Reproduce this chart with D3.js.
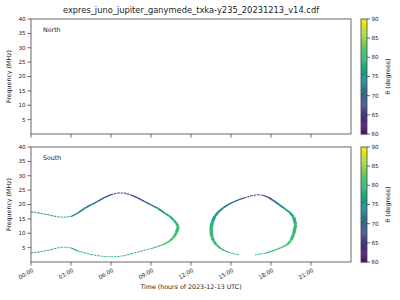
<!DOCTYPE html>
<html>
<head>
<meta charset="utf-8">
<script src="https://cdn.jsdelivr.net/npm/d3@7"></script>
<style>
  body { margin: 0; background: #fff; }
  text { font-family: "DejaVu Sans", sans-serif; }
</style>
</head>
<body>
<script>
// --- data ---
const title = "expres_juno_jupiter_ganymede_txka-y235_20231213_v14.cdf";
const panelNames = ["North", "South"];
const timeTicks = [0, 3, 6, 9, 12, 15, 18, 21];
const timeTickLabels = ["00:00", "03:00", "06:00", "09:00", "12:00", "15:00", "18:00", "21:00"];
const freqTicks = [5, 10, 15, 20, 25, 30, 35, 40];
const thetaTicks = [60, 65, 70, 75, 80, 85, 90];

// south, first loop, upper branch
const s1UpTime  = [0, 0.5, 1, 1.5, 2, 2.5, 3, 3.5, 4, 4.5, 5, 5.5, 6, 6.5, 7, 7.5, 8, 8.5, 9, 9.5, 10, 10.4, 10.7, 10.9, 11.05];
const s1UpFreq  = [17.5, 17.1, 16.7, 16.2, 15.7, 15.6, 15.8, 17.0, 18.6, 19.9, 21.1, 22.4, 23.4, 24.0, 24.0, 23.3, 22.3, 21.1, 19.9, 18.7, 17.1, 15.9, 14.6, 13.5, 12.3];
const s1UpTheta = [74, 74.5, 75, 75.5, 76, 76, 75, 74, 73, 72, 70, 68, 65, 63, 62.5, 64, 66, 68, 71, 73.5, 76, 77.5, 79, 80, 80.5];
// south, first loop, lower branch
const s1LoTime  = [0, 0.5, 1, 1.5, 2, 2.5, 3, 3.5, 4, 4.5, 5, 5.5, 6, 6.5, 7, 7.5, 8, 8.5, 9, 9.5, 10, 10.4, 10.7, 10.9, 11.05];
const s1LoFreq  = [3.1, 3.4, 3.8, 4.3, 4.9, 5.2, 4.9, 3.9, 3.2, 2.6, 2.2, 1.9, 1.8, 1.9, 2.2, 2.9, 3.4, 4.1, 4.6, 5.4, 6.2, 7.3, 8.6, 10.2, 12.3];
const s1LoTheta = [77, 77.5, 78.5, 79.5, 80, 80, 80, 79.5, 79.5, 79.5, 79.5, 79.5, 79.5, 79.5, 79.5, 80, 80, 80.5, 80.5, 81, 81, 81, 81, 81, 80.5];
// south, second loop, upper branch
const s2UpTime  = [13.5, 13.6, 13.8, 14.1, 14.4, 14.8, 15.2, 15.6, 16.0, 16.5, 17.0, 17.4, 17.8, 18.2, 18.6, 19.0, 19.4, 19.7, 19.85];
const s2UpFreq  = [11.8, 14.0, 16.0, 17.6, 18.8, 20.0, 20.9, 21.7, 22.3, 23.0, 23.4, 23.2, 22.5, 21.3, 20.0, 18.6, 17.3, 15.6, 13.0];
const s2UpTheta = [80, 78, 76.5, 75, 73.5, 72, 70.5, 69, 68, 66.5, 65.5, 66, 67.5, 70, 73, 75.5, 77.5, 79, 80];
// south, second loop, lower branch (null = no emission)
const s2LoTime  = [13.5, 13.55, 13.7, 13.9, 14.2, 14.5, 14.8, 15.2, 15.6, 16.0, 16.4, 16.8, 17.2, 17.6, 18.0, 18.4, 18.8, 19.2, 19.5, 19.7, 19.85];
const s2LoFreq  = [11.8, 9.0, 7.3, 6.0, 4.8, 4.0, 3.4, 2.9, 2.5, null, null, 2.5, 2.8, 3.1, 3.7, 4.3, 5.1, 6.0, 7.5, 9.8, 13.0];
const s2LoTheta = [80, 80.5, 80.5, 80.5, 80.5, 80.5, 80, 80, 79.5, 79.5, 79.5, 79.5, 80, 80, 80.5, 80.5, 81, 81, 81, 80.5, 80];

// --- layout ---
const W = 400, H = 300;
const xL = 31, xR = 351;
const panelsY = [[19, 134], [147, 262]];
const cbX = 361, cbW = 6;
const ink = "#222";

const svg = d3.select("body").append("svg")
  .attr("width", W).attr("height", H)
  .attr("viewBox", `0 0 ${W} ${H}`);

const x = d3.scaleLinear().domain([0, 24]).range([xL, xR]);
const color = d3.scaleSequential(d3.interpolateViridis).domain([60, 90]);

svg.append("text")
  .attr("x", (xL + xR) / 2).attr("y", 13)
  .attr("text-anchor", "middle")
  .attr("fill", ink)
  .style("font-size", "8.3px")
  .text(title);

const branches = [
  [s1UpTime, s1UpFreq, s1UpTheta],
  [s1LoTime, s1LoFreq, s1LoTheta],
  [s2UpTime, s2UpFreq, s2UpTheta],
  [s2LoTime, s2LoFreq, s2LoTheta]
];

panelsY.forEach(([top, bottom], p) => {
  const y = d3.scaleLinear().domain([0, 40]).range([bottom, top]);
  const g = svg.append("g");

  // emission (south only)
  if (p === 1) {
    const segs = [];
    branches.forEach(([t, f, th]) => {
      for (let i = 0; i < t.length - 1; i++) {
        if (f[i] == null || f[i + 1] == null) continue;
        segs.push({ t0: t[i], f0: f[i], t1: t[i + 1], f1: f[i + 1], th: (th[i] + th[i + 1]) / 2 });
      }
    });
    g.selectAll("line.em").data(segs).enter().append("line")
      .attr("class", "em")
      .attr("x1", d => x(d.t0)).attr("y1", d => y(d.f0))
      .attr("x2", d => x(d.t1)).attr("y2", d => y(d.f1))
      .attr("stroke", d => color(d.th))
      .attr("stroke-linecap", "butt")
      .attr("stroke-dasharray", d => {
        const dx = x(d.t1) - x(d.t0), dy = y(d.f1) - y(d.f0);
        return Math.abs(dy) / Math.hypot(dx, dy) < 0.3 ? "2.2,0.8" : null;
      })
      .attr("stroke-width", d => {
        const dx = x(d.t1) - x(d.t0), dy = y(d.f1) - y(d.f0);
        const s = Math.abs(dy) / Math.hypot(dx, dy);
        return 0.9 + 2.6 * s * s;
      });
  }

  // frame
  g.append("rect")
    .attr("x", xL).attr("y", top)
    .attr("width", xR - xL).attr("height", bottom - top)
    .attr("fill", "none").attr("stroke", "#444").attr("stroke-width", 0.8);

  // x ticks
  const xt = g.selectAll("g.xt").data(timeTicks).enter().append("g")
    .attr("transform", d => `translate(${x(d)},${bottom})`);
  xt.append("line").attr("y2", 3.5).attr("stroke", "#444").attr("stroke-width", 0.8);
  if (p === 1) {
    xt.append("text")
      .attr("transform", "translate(1,6) rotate(-30)")
      .attr("text-anchor", "end")
      .attr("dy", "0.7em")
      .attr("fill", ink)
      .style("font-size", "5.6px")
      .text((d, i) => timeTickLabels[i]);
  }

  // y ticks
  const yt = g.selectAll("g.yt").data(freqTicks).enter().append("g")
    .attr("transform", d => `translate(${xL},${y(d)})`);
  yt.append("line").attr("x2", -3.5).attr("stroke", "#444").attr("stroke-width", 0.8);
  yt.append("text")
    .attr("x", -5.5).attr("dy", "0.35em")
    .attr("text-anchor", "end")
    .attr("fill", ink)
    .style("font-size", "5.6px")
    .text(d => d);

  g.append("text")
    .attr("transform", `translate(11,${(top + bottom) / 2}) rotate(-90)`)
    .attr("text-anchor", "middle")
    .attr("fill", ink)
    .style("font-size", "6.3px")
    .text("Frequency (MHz)");

  g.append("text")
    .attr("x", 43).attr("y", top + 13)
    .attr("fill", ink)
    .style("font-size", "6.3px")
    .text(panelNames[p]);

  // colorbar
  const cy = d3.scaleLinear().domain([60, 90]).range([bottom, top]);
  const steps = d3.range(60, 90, 0.25);
  g.selectAll("rect.cb").data(steps).enter().append("rect")
    .attr("x", cbX).attr("width", cbW)
    .attr("y", d => cy(d + 0.25)).attr("height", cy(60) - cy(60.25) + 0.4)
    .attr("fill", d => color(d + 0.125));
  g.append("rect")
    .attr("x", cbX).attr("y", top).attr("width", cbW).attr("height", bottom - top)
    .attr("fill", "none").attr("stroke", "#444").attr("stroke-width", 0.8);
  const ct = g.selectAll("g.ct").data(thetaTicks).enter().append("g")
    .attr("transform", d => `translate(${cbX + cbW},${cy(d)})`);
  ct.append("line").attr("x2", 3).attr("stroke", "#444").attr("stroke-width", 0.8);
  ct.append("text")
    .attr("x", 4.5).attr("dy", "0.35em")
    .attr("fill", ink)
    .style("font-size", "5.6px")
    .text(d => d);
  g.append("text")
    .attr("transform", `translate(390,${(top + bottom) / 2}) rotate(-90)`)
    .attr("text-anchor", "middle")
    .attr("fill", ink)
    .style("font-size", "6.3px")
    .text("θ (degrees)");
});

svg.append("text")
  .attr("x", (xL + xR) / 2).attr("y", 289)
  .attr("text-anchor", "middle")
  .attr("fill", ink)
  .style("font-size", "6.3px")
  .text("Time (hours of 2023-12-13 UTC)");
</script>
</body>
</html>
